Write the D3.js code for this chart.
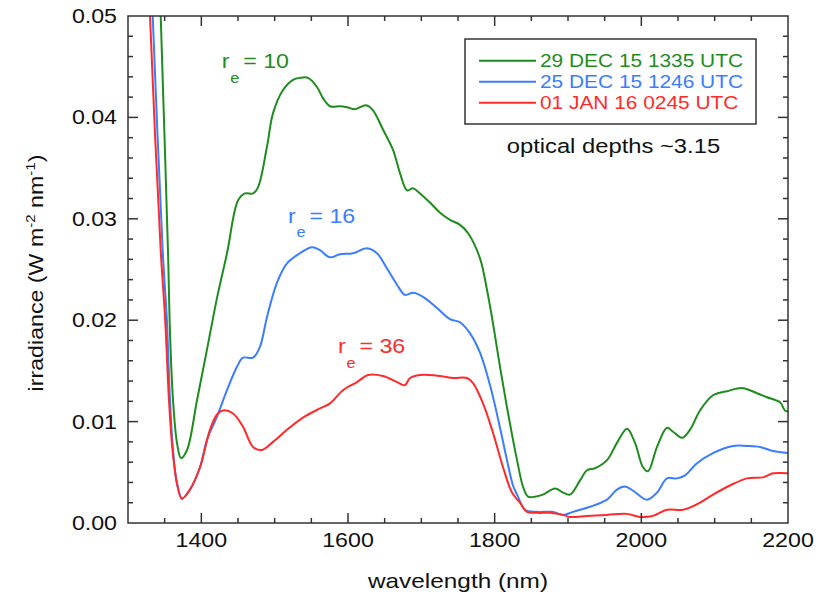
<!DOCTYPE html>
<html>
<head>
<meta charset="utf-8">
<script src="https://cdn.jsdelivr.net/npm/d3@7"></script>
<style>
  html, body { margin: 0; padding: 0; background: #fff; }
  svg { display: block; }
  text { font-family: "Liberation Sans", Arial, Helvetica, sans-serif; }
</style>
</head>
<body>
<svg id="chart" width="825" height="597"></svg>
<script>
// ---------------- data ----------------
const greenWl = [1342,1344.6,1354.5,1357.3,1361.4,1366.8,1372.3,1380.5,1394.1,1407.7,1421.4,1435,1450,1459.5,1470.5,1477.3,1489.5,1497.7,1511.4,1525,1534.5,1545.5,1557.7,1565.9,1575.5,1589.1,1598.6,1609.5,1624.5,1634.1,1647.7,1661.4,1670.9,1680.5,1688.6,1698.2,1711.8,1725.5,1739.1,1752.7,1763.6,1780,1789.5,1797.7,1807.3,1816.8,1825,1830.5,1838.6,1845.5,1855,1865.9,1882.3,1893.2,1902.7,1916.4,1925.9,1936.8,1953.2,1966.8,1980.5,1991.4,2002.3,2009.1,2021.4,2035,2043.2,2055.5,2066.4,2080,2097.7,2116.8,2138.6,2157.7,2171.4,2189.1,2195.9,2200];
const greenIrr = [0.056,0.0500,0.0269,0.0187,0.0121,0.0079,0.0064,0.0072,0.0121,0.0171,0.0222,0.0266,0.0318,0.0325,0.0325,0.0331,0.0371,0.0404,0.0427,0.0437,0.0439,0.0439,0.0430,0.0419,0.0411,0.0411,0.0410,0.0408,0.0412,0.0407,0.0388,0.0368,0.0345,0.0328,0.0330,0.0325,0.0316,0.0306,0.0299,0.0294,0.0286,0.0261,0.0230,0.0197,0.0154,0.0114,0.0082,0.0062,0.0036,0.0026,0.0026,0.0028,0.0034,0.0030,0.0028,0.0042,0.0052,0.0054,0.0062,0.0079,0.0093,0.0079,0.0055,0.0051,0.0075,0.0094,0.0090,0.0084,0.0092,0.0111,0.0126,0.0130,0.0133,0.0128,0.0124,0.0119,0.0111,0.0110];

const blueWl = [1331,1333.7,1347.3,1352.8,1357.3,1361.4,1366.8,1373.6,1384.5,1398.2,1407.7,1421.4,1435,1448.6,1456.8,1470.5,1480,1489.5,1503.2,1516.8,1534.5,1550.9,1561.8,1575.5,1589.1,1606.8,1625.9,1639.5,1653.2,1666.8,1677.7,1688.6,1702.3,1721.4,1739.1,1752.7,1766.4,1780,1793.6,1807.3,1816.8,1825,1831.8,1841.4,1857.7,1878.2,1893.2,1906.8,1930,1953.2,1966.8,1977.7,1988.6,2007.7,2021.4,2035,2048.6,2059.5,2075.9,2097.7,2125,2144.1,2161.8,2179.5,2200];
const blueIrr = [0.056,0.0500,0.0269,0.0203,0.0121,0.0072,0.0039,0.0024,0.0033,0.0055,0.0082,0.0105,0.0131,0.0154,0.0163,0.0163,0.0174,0.0203,0.0237,0.0256,0.0266,0.0272,0.0269,0.0262,0.0265,0.0266,0.0271,0.0266,0.0251,0.0235,0.0225,0.0227,0.0223,0.0212,0.0201,0.0198,0.0187,0.0168,0.0136,0.0094,0.0062,0.0037,0.0026,0.0013,0.0011,0.0011,0.0008,0.0011,0.0016,0.0023,0.0033,0.0036,0.0032,0.0023,0.0030,0.0044,0.0044,0.0047,0.0059,0.0069,0.0076,0.0076,0.0075,0.0071,0.0069];

const redWl = [1328,1330,1344.6,1350.5,1355.9,1360.7,1366.8,1373.6,1384.5,1398.2,1411.8,1421.4,1429.5,1443.2,1456.8,1470.5,1482.7,1497.7,1516.8,1538.6,1561.8,1575.5,1593.2,1612.3,1627.3,1647.7,1666.8,1677.7,1684.5,1698.2,1725.5,1743.2,1762.3,1770.5,1784.1,1797.7,1811.4,1823.6,1834.5,1844.1,1857.7,1875.5,1893.2,1902.7,1925.9,1953.2,1980.5,1998.2,2015.9,2035,2056.8,2080,2097.7,2120.9,2144.1,2165.9,2179.5,2200];
const redIrr = [0.056,0.0500,0.0269,0.0203,0.0121,0.0072,0.0039,0.0024,0.0033,0.0055,0.0092,0.0107,0.0111,0.0108,0.0095,0.0075,0.0072,0.0080,0.0092,0.0104,0.0113,0.0118,0.0131,0.0139,0.0146,0.0145,0.0139,0.0136,0.0143,0.0146,0.0145,0.0143,0.0143,0.0138,0.0118,0.0089,0.0055,0.0030,0.0020,0.0011,0.0010,0.0010,0.0008,0.0006,0.0007,0.0008,0.0009,0.0006,0.0007,0.0013,0.0013,0.0020,0.0028,0.0037,0.0044,0.0045,0.0049,0.0049];

const seriesNames = ["29 DEC 15 1335 UTC", "25 DEC 15 1246 UTC", "01 JAN 16 0245 UTC"];
const seriesColors = ["#1f8c1f", "#3a7dff", "#ff2b2b"];
const reLabels = ["10", "16", "36"];

const xMajorTicks = [1400, 1600, 1800, 2000, 2200];
const yMajorTicks = [0.00, 0.01, 0.02, 0.03, 0.04, 0.05];

// ---------------- layout ----------------
const L = 128, R = 788, T = 16, B = 523;
const SX = 1.16; // horizontal glyph stretch of reference text
const svg = d3.select("#chart");
const x = d3.scaleLinear().domain([1300, 2200]).range([L, R]);
const y = d3.scaleLinear().domain([0, 0.05]).range([B, T]);
const axisColor = "#333";

function stext(px, py, str, size, color, anchor) {
  return svg.append("text")
    .attr("transform", `translate(${px},${py}) scale(${SX},1)`)
    .attr("font-size", size)
    .attr("fill", color || "#111")
    .attr("text-anchor", anchor || "start")
    .text(str);
}

// clip
svg.append("defs").append("clipPath").attr("id", "plotclip")
  .append("rect").attr("x", L).attr("y", T).attr("width", R - L).attr("height", B - T);

// curves
const seriesData = [
  greenWl.map((w, i) => [w, greenIrr[i]]),
  blueWl.map((w, i) => [w, blueIrr[i]]),
  redWl.map((w, i) => [w, redIrr[i]])
];
const line = d3.line().x(d => x(d[0])).y(d => y(d[1])).curve(d3.curveCatmullRom.alpha(0.5));
const gCurves = svg.append("g").attr("clip-path", "url(#plotclip)");
seriesData.forEach((d, i) => {
  gCurves.append("path").datum(d)
    .attr("d", line).attr("fill", "none")
    .attr("stroke", seriesColors[i]).attr("stroke-width", 2)
    .attr("stroke-linejoin", "round");
});

// frame
svg.append("rect").attr("x", L).attr("y", T).attr("width", R - L).attr("height", B - T)
  .attr("fill", "none").attr("stroke", axisColor).attr("stroke-width", 1.5);

// ticks (inward on all sides)
const xMinor = d3.range(1300, 2201, 50);
const yMinor = d3.range(0, 0.0501, 0.002);
const gT = svg.append("g").attr("stroke", axisColor).attr("stroke-width", 1.5);
xMinor.forEach(v => {
  const major = Math.abs((v - 1400) % 200) < 1e-6;
  const len = major ? 10 : 5;
  if (v <= 1300 || v >= 2200) return;
  gT.append("line").attr("x1", x(v)).attr("x2", x(v)).attr("y1", B).attr("y2", B - len);
  gT.append("line").attr("x1", x(v)).attr("x2", x(v)).attr("y1", T).attr("y2", T + len);
});
yMinor.forEach(v => {
  const major = Math.abs(Math.round(v * 100) - v * 100) < 1e-6;
  const len = major ? 10 : 5;
  if (v <= 0.0001 || v >= 0.0499) return;
  gT.append("line").attr("x1", L).attr("x2", L + len).attr("y1", y(v)).attr("y2", y(v));
  gT.append("line").attr("x1", R).attr("x2", R - len).attr("y1", y(v)).attr("y2", y(v));
});

// tick labels
xMajorTicks.forEach(v => stext(x(v), 547, String(v), 20, "#111", "middle"));
yMajorTicks.forEach(v => stext(117, y(v) + 7, d3.format(".2f")(v), 20, "#111", "end"));

// axis titles
stext(458, 588, "wavelength (nm)", 21, "#111", "middle");
const yl = svg.append("text")
  .attr("transform", `translate(43,273) rotate(-90) scale(${SX},1)`)
  .attr("font-size", 20).attr("fill", "#111").attr("text-anchor", "middle");
yl.append("tspan").text("irradiance (W m");
yl.append("tspan").attr("font-size", 13).attr("dy", -8).text("-2");
yl.append("tspan").attr("dy", 8).text(" nm");
yl.append("tspan").attr("font-size", 13).attr("dy", -8).text("-1");
yl.append("tspan").attr("dy", 8).text(")");

// legend
svg.append("rect").attr("x", 465).attr("y", 39).attr("width", 291).attr("height", 85)
  .attr("fill", "#fff").attr("stroke", axisColor).attr("stroke-width", 1.5);
const legY = [60.7, 81.7, 102.7];
seriesNames.forEach((name, i) => {
  svg.append("line").attr("x1", 479).attr("x2", 536).attr("y1", legY[i]).attr("y2", legY[i])
    .attr("stroke", seriesColors[i]).attr("stroke-width", 2);
  stext(540, legY[i] + 6.5, name, 18, seriesColors[i]);
});
stext(506.7, 153, "optical depths ~3.15", 20.5, "#111");

// r_e annotations
const rePos = [[221.7, 68.3], [288, 222.7], [338, 353]];
rePos.forEach((p, i) => {
  stext(p[0], p[1], "r", 20, seriesColors[i]);
  stext(p[0] + 8.5, p[1] + 14.5, "e", 14, seriesColors[i]);
  stext(p[0] + 21.5, p[1], "= " + reLabels[i], 20, seriesColors[i]);
});
</script>
</body>
</html>
